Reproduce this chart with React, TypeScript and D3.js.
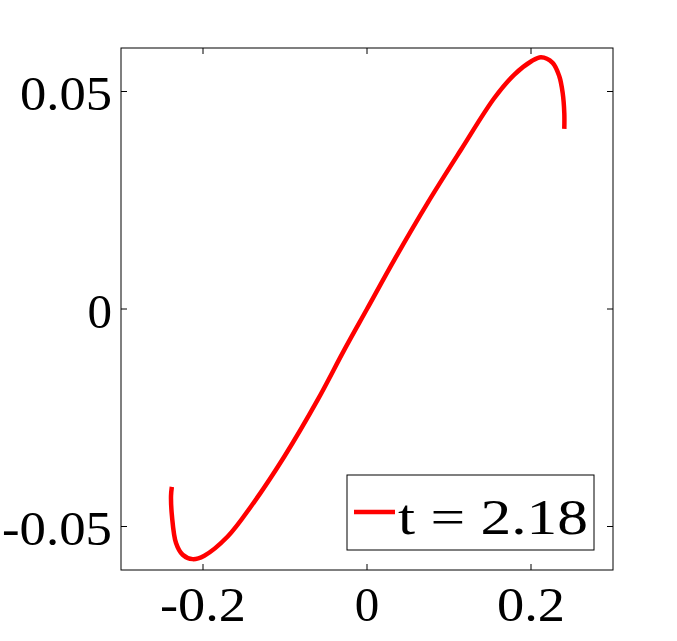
import React, { useEffect, useRef } from 'react';
import * as d3 from 'd3';

// curve points (x, y), in path order
const curveX = [
  -0.2380, -0.2390, -0.2378, -0.2329, -0.2248, -0.2126, -0.1984, -0.1699, -0.1415,
  -0.1008, -0.0602, -0.0277, 0.0, 0.0333, 0.0740, 0.1146, 0.1553, 0.1797, 0.2000,
  0.2122, 0.2264, 0.2345, 0.2386, 0.2406, 0.2406,
];
const curveY = [
  -0.0409, -0.0430, -0.0477, -0.0538, -0.0565, -0.0575, -0.0567, -0.0523, -0.0454,
  -0.0339, -0.0209, -0.0094, 0.0, 0.0113, 0.0244, 0.0366, 0.0485, 0.0539, 0.0569,
  0.0579, 0.0566, 0.0535, 0.0497, 0.0451, 0.0414,
];

const xTicks = [-0.2, 0, 0.2];
const xTickLabels = ['-0.2', '0', '0.2'];
const yTicks = [-0.05, 0, 0.05];
const yTickLabels = ['-0.05', '0', '0.05'];
const legendLabel = 't = 2.18';

// approximate rendered widths of the labels in the reference font
const labelWidth: Record<string, number> = { '-0.2': 86, '0.2': 68, '-0.05': 110, '0.05': 92 };

const App = () => {
  const svgRef = useRef<SVGSVGElement>(null);

  useEffect(() => {
    const svg = d3.select(svgRef.current);
    svg.selectAll('*').remove();

    const width = 677, height = 641;
    const margin = { top: 48, right: 64, bottom: 71, left: 121 };
    const font = '"Liberation Serif", "Times New Roman", serif';

    const x = d3.scaleLinear().domain([-0.3, 0.3]).range([margin.left, width - margin.right]);
    const y = d3.scaleLinear().domain([-0.06, 0.06]).range([height - margin.bottom, margin.top]);

    svg.append('rect')
      .attr('width', width).attr('height', height).attr('fill', '#fff');

    // curve
    const pts: [number, number][] = curveX.map((v, i) => [v, curveY[i]]);
    const line = d3.line<[number, number]>()
      .x(d => x(d[0]))
      .y(d => y(d[1]))
      .curve(d3.curveCatmullRom.alpha(0.5));

    svg.append('path')
      .datum(pts)
      .attr('d', line)
      .attr('fill', 'none')
      .attr('stroke', '#ff0000')
      .attr('stroke-width', 4.5)
      .attr('stroke-linejoin', 'round');

    // frame
    const [x0, x1] = x.range();
    const [y0, y1] = y.range();
    svg.append('rect')
      .attr('x', x0).attr('y', y1)
      .attr('width', x1 - x0).attr('height', y0 - y1)
      .attr('fill', 'none').attr('stroke', '#000').attr('stroke-width', 1);

    // ticks inward on all four sides
    const tl = 6;
    const tg = svg.append('g').attr('stroke', '#000').attr('stroke-width', 1);
    xTicks.forEach(t => {
      tg.append('line').attr('x1', x(t)).attr('x2', x(t)).attr('y1', y0).attr('y2', y0 - tl);
      tg.append('line').attr('x1', x(t)).attr('x2', x(t)).attr('y1', y1).attr('y2', y1 + tl);
    });
    yTicks.forEach(t => {
      tg.append('line').attr('x1', x0).attr('x2', x0 + tl).attr('y1', y(t)).attr('y2', y(t));
      tg.append('line').attr('x1', x1).attr('x2', x1 - tl).attr('y1', y(t)).attr('y2', y(t));
    });

    const addLabel = (sel: d3.Selection<SVGTextElement, unknown, null, undefined>, s: string) => {
      if (labelWidth[s]) sel.attr('textLength', labelWidth[s]).attr('lengthAdjust', 'spacingAndGlyphs');
      return sel;
    };

    // tick labels
    xTicks.forEach((t, i) => {
      const s = xTickLabels[i];
      addLabel(svg.append('text')
        .attr('x', x(t)).attr('y', 621)
        .attr('text-anchor', 'middle')
        .style('font-family', font).style('font-size', '49px')
        .text(s), s);
    });
    yTicks.forEach((t, i) => {
      const s = yTickLabels[i];
      addLabel(svg.append('text')
        .attr('x', x0 - 9).attr('y', y(t) + 18.5)
        .attr('text-anchor', 'end')
        .style('font-family', font).style('font-size', '49px')
        .text(s), s);
    });

    // legend
    const legend = svg.append('g');
    legend.append('rect')
      .attr('x', 347).attr('y', 475).attr('width', 247).attr('height', 75)
      .attr('fill', '#fff').attr('stroke', '#000').attr('stroke-width', 1);
    legend.append('line')
      .attr('x1', 354).attr('x2', 395).attr('y1', 512).attr('y2', 512)
      .attr('stroke', '#ff0000').attr('stroke-width', 4.5);
    legend.append('text')
      .attr('x', 398).attr('y', 534)
      .attr('textLength', 190).attr('lengthAdjust', 'spacingAndGlyphs')
      .style('font-family', font).style('font-size', '51px')
      .text(legendLabel);
  }, []);

  return (
    <svg
      ref={svgRef}
      width={677}
      height={641}
      style={{ position: 'absolute', left: 0, top: 0, display: 'block' }}
    ></svg>
  );
};

export default App;
